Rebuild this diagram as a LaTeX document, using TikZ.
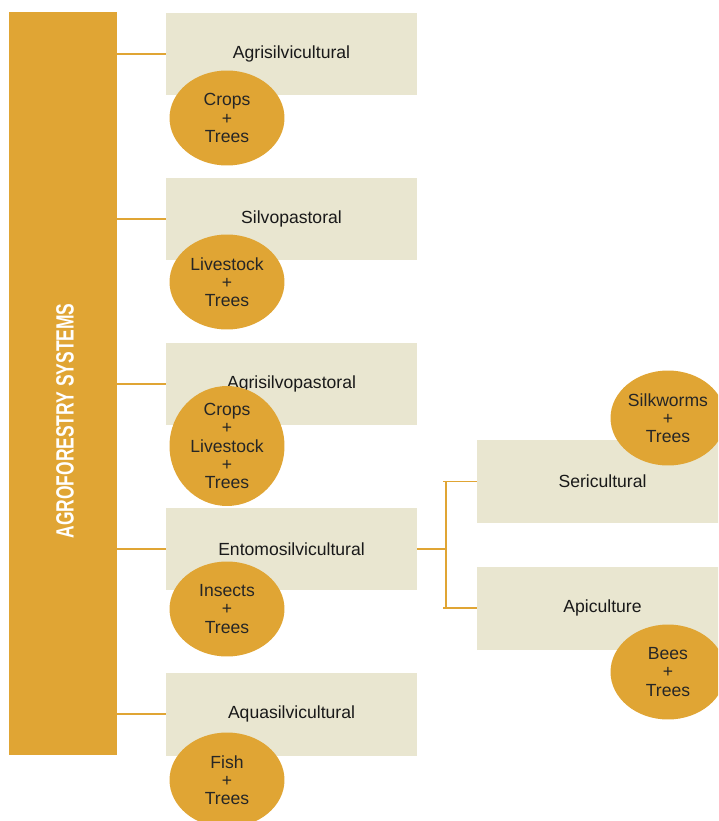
\documentclass[tikz,border=0pt]{standalone}
\usepackage{fontspec}
\usepackage{graphicx}
\setmainfont{Liberation Sans}
\usetikzlibrary{shapes.geometric}

\definecolor{oro}{RGB}{224,165,52}
\definecolor{crema}{RGB}{233,230,208}

\tikzset{
  sistema/.style={fill=crema, minimum width=5.02cm, minimum height=1.66cm, inner sep=0pt,
    font=\fontsize{10}{10.2}\selectfont, text=black!90},
  mezcla/.style={ellipse, fill=oro, minimum width=2.3cm, minimum height=1.9cm, inner sep=0pt,
    align=center, font=\fontsize{10}{10.3}\selectfont, text=black!85},
  enlace/.style={draw=oro, line width=0.85pt}
}

\begin{document}
\begin{tikzpicture}[x=0.02cm, y=-0.02cm]

    \useasboundingbox (0,0) rectangle (718,821);
    \clip (0,0) rectangle (718,821);

    % Barra principal
    \node[fill=oro, minimum width=2.16cm, minimum height=14.86cm, inner sep=0pt] (barra) at (63,383.5) {};
    \node[rotate=90, text=white, font=\fontsize{14.2}{15}\selectfont\bfseries] (titulo) at (65,421)
      {\scalebox{0.7}[1]{AGROFORESTRY SYSTEMS}};

    % Sistemas
    \node[sistema] (agri) at (291.5,54) {Agrisilvicultural};
    \node[sistema] (silvo) at (291.5,219) {Silvopastoral};
    \node[sistema] (agrisilvo) at (291.5,384) {Agrisilvopastoral};
    \node[sistema] (entomo) at (291.5,549) {Entomosilvicultural};
    \node[sistema] (aqua) at (291.5,714) {Aquasilvicultural};
    \node[sistema] (seri) at (602.5,481.5) {Sericultural};
    \node[sistema] (api) at (602.5,608) {Apiculture};

    % Enlaces
    \foreach \s in {agri,silvo,agrisilvo,entomo,aqua}
      \draw[enlace] (barra.east |- \s.west) -- (\s.west);
    \coordinate (rama) at (446,549);
    \draw[enlace] (entomo.east) -- (rama);
    \draw[enlace] (rama |- seri.west) -- (rama |- api.west);
    \draw[enlace] ([xshift=-1.5pt]rama |- seri.west) -- (seri.west);
    \draw[enlace] ([xshift=-1.5pt]rama |- api.west) -- (api.west);

    % Combinaciones
    \node[mezcla] (cultivos) at (227,118) {Crops\\+\\Trees};
    \node[mezcla] (ganado) at (227,282) {Livestock\\+\\Trees};
    \node[mezcla] (mixto) at (227,446) {Crops\\+\\Livestock\\+\\Trees};
    \node[mezcla] (insectos) at (227,609) {Insects\\+\\Trees};
    \node[mezcla] (peces) at (227,780) {Fish\\+\\Trees};
    \node[mezcla] (gusanos) at (668,418) {Silkworms\\+\\Trees};
    \node[mezcla] (abejas) at (668,672) {Bees\\+\\Trees};

\end{tikzpicture}
\end{document}
